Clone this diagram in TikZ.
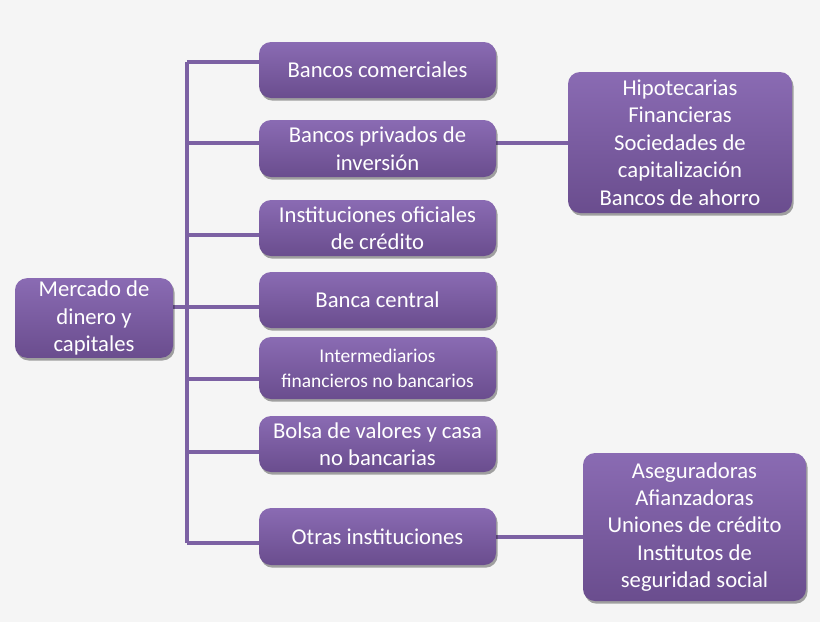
\documentclass[tikz,border=0pt]{standalone}
\usepackage{fontspec}
\setmainfont{Carlito}
\usetikzlibrary{shadows,backgrounds}
\definecolor{bgc}{HTML}{F5F5F5}
\definecolor{boxtop}{HTML}{8A6BB3}
\definecolor{boxbot}{HTML}{6A4D8E}
\definecolor{linec}{HTML}{7C61A3}
\tikzset{
  pbox/.style={rectangle, rounded corners=9pt, top color=boxtop, bottom color=boxbot,
    draw=none, text=white, align=center, inner sep=2pt,
    font=\fontsize{17pt}{20.6pt}\selectfont,
    drop shadow={shadow xshift=1.2pt, shadow yshift=-2pt, opacity=0.35, fill=black}},
  conn/.style={draw=linec, line width=2.3pt}
}
\begin{document}
\begin{tikzpicture}[x=0.75pt,y=-0.75pt]
\useasboundingbox (0,0) rectangle (820,622);
% nodes
\node[pbox, minimum width=158*0.75pt, minimum height=78*0.75pt] (root) at (94,318) {Mercado de\\dinero y\\capitales};
\node[pbox, minimum width=237*0.75pt, minimum height=56*0.75pt] (b1) at (377.5,70) {Bancos comerciales};
\node[pbox, minimum width=237*0.75pt, minimum height=57*0.75pt] (b2) at (377.5,148.5) {Bancos privados de\\inversión};
\node[pbox, minimum width=237*0.75pt, minimum height=56*0.75pt] (b3) at (377.5,228) {Instituciones oficiales\\de crédito};
\node[pbox, minimum width=237*0.75pt, minimum height=56*0.75pt] (b4) at (377.5,300) {Banca central};
\node[pbox, minimum width=237*0.75pt, minimum height=62*0.75pt, font=\fontsize{14.6pt}{19pt}\selectfont] (b5) at (377.5,368) {Intermediarios\\financieros no bancarios};
\node[pbox, minimum width=237*0.75pt, minimum height=56*0.75pt] (b6) at (377.5,444) {Bolsa de valores y casa\\no bancarias};
\node[pbox, minimum width=237*0.75pt, minimum height=57*0.75pt] (b7) at (377.5,536.5) {Otras instituciones};
\node[pbox, minimum width=224*0.75pt, minimum height=141*0.75pt] (r1) at (680,142.5) {Hipotecarias\\Financieras\\Sociedades de\\capitalización\\Bancos de ahorro};
\node[pbox, minimum width=223*0.75pt, minimum height=148*0.75pt] (r2) at (694.5,527) {Aseguradoras\\Afianzadoras\\Uniones de crédito\\Institutos de\\seguridad social};
% junctions on the spine
\coordinate (j1) at (187,62);
\coordinate (j2) at (187,143);
\coordinate (j3) at (187,235);
\coordinate (j4) at (187,307);
\coordinate (j5) at (187,379);
\coordinate (j6) at (187,452);
\coordinate (j7) at (187,543);
\coordinate (k1) at (530,143);
\coordinate (k2) at (540,537);
\begin{pgfonlayer}{background}
\fill[bgc] (0,0) rectangle (820,622);
\draw[conn] (j1) -- (j7);
\draw[conn] (root.east |- j4) -- (j4);
\draw[conn] (j1) -- (j1 -| b1.west);
\draw[conn] (j2) -- (j2 -| b2.west);
\draw[conn] (j3) -- (j3 -| b3.west);
\draw[conn] (j4) -- (j4 -| b4.west);
\draw[conn] (j5) -- (j5 -| b5.west);
\draw[conn] (j6) -- (j6 -| b6.west);
\draw[conn] (j7) -- (j7 -| b7.west);
\draw[conn] (k1 -| b2.east) -- (k1 -| r1.west);
\draw[conn] (k2 -| b7.east) -- (k2 -| r2.west);
\end{pgfonlayer}
\end{tikzpicture}
\end{document}
